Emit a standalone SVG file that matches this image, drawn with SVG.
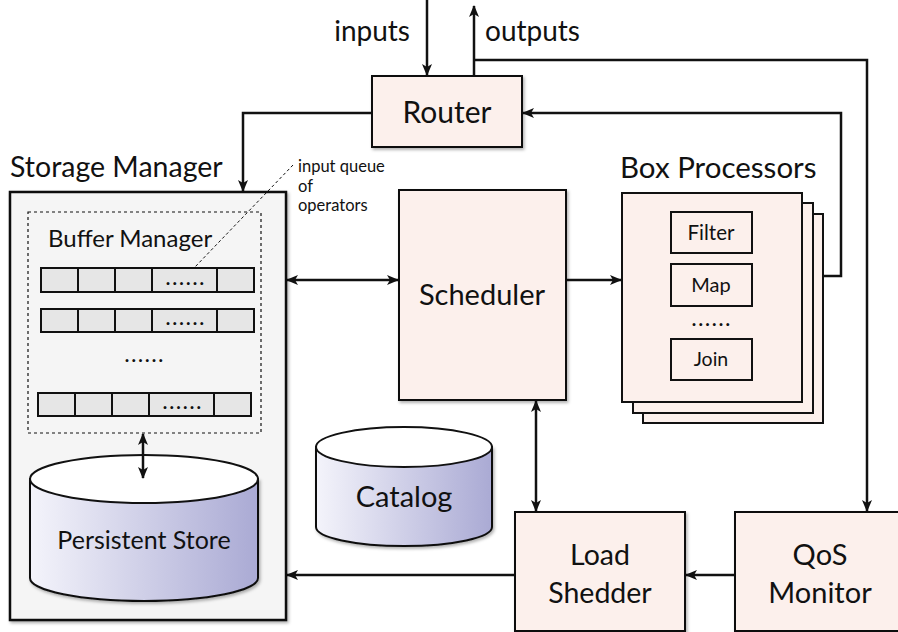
<svg xmlns="http://www.w3.org/2000/svg" width="898" height="632" viewBox="0 0 898 632">
<style>
text{font-family:"Lato","Open Sans","Liberation Sans",sans-serif;fill:#111;}
.box{fill:#fcf0ec;stroke:#111;stroke-width:2;}
.cell{fill:#e6e6e6;stroke:#111;stroke-width:2;}
.ln{fill:none;stroke:#111;stroke-width:2.5;}
.c{text-anchor:middle;}
.dots{font-size:19px;font-weight:bold;letter-spacing:2.2px;text-anchor:middle;}
</style>
<defs>
<marker id="ah" viewBox="0 0 12 10" refX="11" refY="5" markerWidth="12" markerHeight="10" markerUnits="userSpaceOnUse" orient="auto-start-reverse">
<path d="M0,0 L12,5 L0,10 L3,5 Z" fill="#111"/>
</marker>
<linearGradient id="cyl" x1="0" y1="0" x2="1" y2="0">
<stop offset="0" stop-color="#f4f4fb"/>
<stop offset="1" stop-color="#aaaad4"/>
</linearGradient>
<filter id="sh" x="-10%" y="-10%" width="130%" height="130%">
<feDropShadow dx="1.5" dy="2" stdDeviation="1.5" flood-color="#000" flood-opacity="0.3"/>
</filter>
</defs>

<g id="connectors">
<line class="ln" x1="427" y1="0" x2="427" y2="75" marker-end="url(#ah)"/>
<line class="ln" x1="474" y1="76" x2="474" y2="6" marker-end="url(#ah)"/>
<polyline class="ln" points="474,60 867,60 867,511" marker-end="url(#ah)"/>
<polyline class="ln" points="802,276 841,276 841,113 523,113" marker-end="url(#ah)"/>
<polyline class="ln" points="372,113 243,113 243,191" marker-end="url(#ah)"/>
<line class="ln" x1="287" y1="280" x2="398" y2="280" marker-start="url(#ah)" marker-end="url(#ah)"/>
<line class="ln" x1="566" y1="280" x2="621" y2="280" marker-end="url(#ah)"/>
<line class="ln" x1="536" y1="401" x2="536" y2="511" marker-start="url(#ah)" marker-end="url(#ah)"/>
<line class="ln" x1="735" y1="575" x2="686" y2="575" marker-end="url(#ah)"/>
<line class="ln" x1="515" y1="575" x2="287" y2="575" marker-end="url(#ah)"/>
</g>

<g id="router">
<rect class="box" x="372" y="76" width="150" height="71" filter="url(#sh)"/>
<text class="c" x="447" y="123" font-size="30">Router</text>
</g>
<text id="inputs-label" x="410" y="41" font-size="28" text-anchor="end">inputs</text>
<text id="outputs-label" x="485" y="41" font-size="28">outputs</text>

<g id="storage-manager">
<text x="10" y="177" font-size="28.5">Storage Manager</text>
<rect x="10" y="192" width="276" height="428" fill="#f5f5f5" stroke="#111" stroke-width="2.5" filter="url(#sh)"/>
</g>

<g id="buffer-manager">
<rect x="28" y="212" width="233" height="221" fill="none" stroke="#111" stroke-width="1.2" stroke-dasharray="3,3"/>
<text x="48" y="247" font-size="24">Buffer Manager</text>
<g id="queue1">
<rect class="cell" x="41" y="268" width="37" height="24"/><rect class="cell" x="78" y="268" width="37" height="24"/><rect class="cell" x="115" y="268" width="37" height="24"/><rect class="cell" x="152" y="268" width="65" height="24"/><rect class="cell" x="217" y="268" width="37" height="24"/>
<text class="dots" x="186" y="285">......</text>
</g>
<g id="queue2">
<rect class="cell" x="41" y="309" width="37" height="23"/><rect class="cell" x="78" y="309" width="37" height="23"/><rect class="cell" x="115" y="309" width="37" height="23"/><rect class="cell" x="152" y="309" width="65" height="23"/><rect class="cell" x="217" y="309" width="37" height="23"/>
<text class="dots" x="186" y="325">......</text>
</g>
<text class="dots" x="145" y="362">......</text>
<g id="queue3">
<rect class="cell" x="38" y="393" width="37" height="23"/><rect class="cell" x="75" y="393" width="37" height="23"/><rect class="cell" x="112" y="393" width="37" height="23"/><rect class="cell" x="149" y="393" width="65" height="23"/><rect class="cell" x="214" y="393" width="37" height="23"/>
<text class="dots" x="183" y="409">......</text>
</g>
<line x1="293" y1="165" x2="195" y2="267" stroke="#111" stroke-width="1" stroke-dasharray="3,2.5"/>
</g>
<text id="annotation" font-size="16.5"><tspan x="298" y="172">input queue</tspan><tspan x="298" y="192">of</tspan><tspan x="298" y="211">operators</tspan></text>

<g id="persistent-store">
<path d="M30,479 L30,578 A114,23 0 0 0 258,578 L258,479 Z" fill="url(#cyl)" stroke="#111" stroke-width="2" filter="url(#sh)"/>
<ellipse cx="144" cy="479" rx="114" ry="24" fill="#fff" stroke="#111" stroke-width="2"/>
<text class="c" x="144" y="549" font-size="25">Persistent Store</text>
</g>
<line class="ln" x1="143" y1="434" x2="143" y2="478" marker-start="url(#ah)" marker-end="url(#ah)"/>

<g id="scheduler">
<rect class="box" x="399" y="190" width="167" height="210" filter="url(#sh)"/>
<text class="c" x="482" y="305" font-size="29">Scheduler</text>
</g>

<g id="box-processors">
<text x="620" y="178" font-size="29.5">Box Processors</text>
<rect class="box" x="643" y="214" width="180" height="209"/>
<rect class="box" x="633" y="203" width="180" height="210"/>
<rect class="box" x="622" y="193" width="180" height="209"/>
<g id="filter"><rect x="671" y="212" width="81" height="41" fill="none" stroke="#111" stroke-width="2"/><text class="c" x="711" y="240" font-size="20.5">Filter</text></g>
<g id="map"><rect x="671" y="264" width="81" height="42" fill="none" stroke="#111" stroke-width="2"/><text class="c" x="711" y="292" font-size="20">Map</text></g>
<text class="dots" x="712" y="326">......</text>
<g id="join"><rect x="671" y="339" width="81" height="41" fill="none" stroke="#111" stroke-width="2"/><text class="c" x="711" y="366" font-size="19.5">Join</text></g>
</g>

<g id="catalog">
<path d="M316,447 L316,527 A88,19 0 0 0 492,527 L492,447 Z" fill="url(#cyl)" stroke="#111" stroke-width="2" filter="url(#sh)"/>
<ellipse cx="404" cy="447" rx="88" ry="20" fill="#fff" stroke="#111" stroke-width="2"/>
<text class="c" x="404" y="507" font-size="29">Catalog</text>
</g>

<g id="load-shedder">
<rect class="box" x="515" y="512" width="170" height="119" filter="url(#sh)"/>
<text class="c" x="600" y="565" font-size="28.5">Load</text>
<text class="c" x="600" y="603" font-size="28.5">Shedder</text>
</g>

<g id="qos-monitor">
<rect class="box" x="735" y="512" width="170" height="119" filter="url(#sh)"/>
<text class="c" x="820" y="565" font-size="29">QoS</text>
<text class="c" x="820" y="603" font-size="29">Monitor</text>
</g>
</svg>
